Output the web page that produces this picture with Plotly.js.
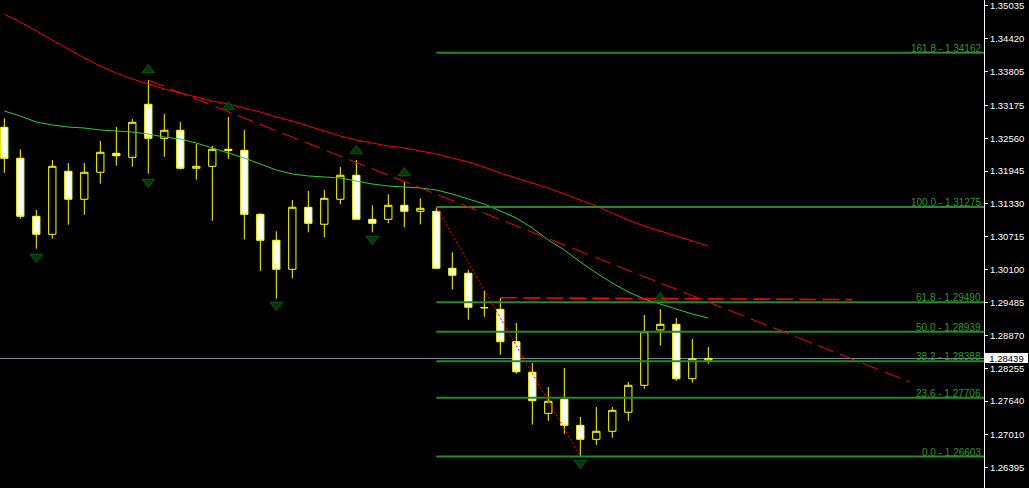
<!DOCTYPE html>
<html>
<head>
<meta charset="utf-8">
<script src="https://cdn.plot.ly/plotly-3.0.1.min.js"></script>
<style>
html,body{margin:0;padding:0;background:#000;}
#chart{width:1029px;height:488px;}
</style>
</head>
<body>
<div id="chart"></div>
<script>
// ---- data ----
const candleIdx = [0,1,2,3,4,5,6,7,8,9,10,11,12,13,14,15,16,17,18,19,20,21,22,23,24,25,26,27,28,29,30,31,32,33,34,35,36,37,38,39,40,41,42,43,44];
const openP  = [1.32765,1.32185,1.31099,1.30763,1.31942,1.31418,1.31923,1.32278,1.32203,1.33195,1.32559,1.32709,1.31998,1.32035,1.32353,1.32334,1.31137,1.30650,1.30108,1.31268,1.30950,1.31418,1.31867,1.31043,1.31043,1.31305,1.31193,1.31193,1.30126,1.30033,1.29389,1.29359,1.28753,1.28180,1.27413,1.27675,1.27188,1.26926,1.27076,1.27432,1.27937,1.28972,1.29078,1.28060,1.28405];
const highP  = [1.32933,1.32353,1.31217,1.32153,1.32097,1.32097,1.32509,1.32770,1.32920,1.33650,1.33014,1.32864,1.32452,1.32415,1.32958,1.32714,1.31156,1.30819,1.31404,1.31573,1.31592,1.32022,1.32153,1.31305,1.31511,1.31736,1.31436,1.31275,1.30426,1.30095,1.29702,1.29576,1.29103,1.28354,1.27905,1.28261,1.27344,1.27531,1.27531,1.27999,1.29252,1.29365,1.29196,1.28803,1.28654];
const lowP   = [1.31915,1.31055,1.30493,1.30680,1.30942,1.31129,1.31709,1.32046,1.32028,1.31897,1.32215,1.31979,1.31784,1.31017,1.32177,1.30665,1.30081,1.29557,1.29939,1.30800,1.30706,1.31324,1.31043,1.30800,1.30968,1.30894,1.30950,1.30110,1.29730,1.29164,1.29221,1.28510,1.28154,1.27200,1.27274,1.27031,1.26603,1.26825,1.26956,1.27274,1.27873,1.28678,1.28023,1.27986,1.28341];
const closeP = [1.32185,1.31099,1.30763,1.32035,1.31418,1.31923,1.32297,1.32233,1.32858,1.32559,1.32709,1.31998,1.32035,1.32353,1.32334,1.31137,1.30650,1.30108,1.31268,1.30968,1.31436,1.31867,1.31043,1.30968,1.31305,1.31193,1.31249,1.30126,1.29995,1.29397,1.29389,1.28753,1.28191,1.27649,1.27638,1.27188,1.26926,1.27076,1.27469,1.27937,1.28940,1.29078,1.28060,1.28435,1.28439];

const maSlow = [1.34885,1.34735,1.34567,1.34399,1.34230,1.34062,1.33912,1.33781,1.33669,1.33575,1.33482,1.33407,1.33332,1.33257,1.33201,1.33126,1.33051,1.32958,1.32883,1.32789,1.32696,1.32602,1.32527,1.32471,1.32415,1.32378,1.32321,1.32265,1.32190,1.32116,1.32022,1.31910,1.31816,1.31723,1.31629,1.31517,1.31404,1.31292,1.31161,1.31030,1.30918,1.30824,1.30731,1.30637,1.30544];
const maFast = [1.33070,1.32976,1.32864,1.32808,1.32770,1.32752,1.32714,1.32696,1.32677,1.32640,1.32583,1.32546,1.32471,1.32378,1.32284,1.32190,1.32078,1.31966,1.31891,1.31854,1.31835,1.31816,1.31760,1.31704,1.31666,1.31648,1.31629,1.31592,1.31517,1.31423,1.31330,1.31199,1.31068,1.30880,1.30656,1.30469,1.30244,1.30038,1.29851,1.29683,1.29552,1.29458,1.29365,1.29271,1.29196];

const upFractalX = [9,14,22,25,41];
const upFractalY = [1.33837,1.33145,1.32321,1.31910,1.29571];
const downFractalX = [2,9,17,23,36];
const downFractalY = [1.30338,1.31741,1.29440,1.30675,1.26483];

const fibPct  = ['0.0','23.6','38.2','50.0','61.8','100.0','161.8'];
const fibVals = [1.26603,1.27706,1.28388,1.28939,1.29490,1.31275,1.34162];
const fibStartX = 27;
const fibBaseX = [27, 36];
const fibBaseY = [1.31275, 1.26603];

const trendX = [9, 56.6];
const trendY = [1.33650, 1.28000];
const levelLineX = [31, 53];
const levelLineY = [1.29576, 1.29540];

const bidPrice = 1.28439;
const bidText = '1.28439';

const tickLabels = ['1.35035','1.34420','1.33805','1.33175','1.32560','1.31945','1.31330','1.30715','1.30100','1.29485','1.28870','1.28255','1.27640','1.27010','1.26395'];
const tickValues = tickLabels.map(Number);

// ---- figure ----
const X_MIN = -0.269, X_MAX = 61.23;
const Y_MIN = 1.26015, Y_MAX = 1.35147;
const FONT = 'Liberation Sans, Arial, sans-serif';

const traces = [];
traces.push({
  type:'candlestick', x:candleIdx, open:openP, high:highP, low:lowP, close:closeP,
  increasing:{line:{color:'#FFFF00', width:1}, fillcolor:'#000000'},
  decreasing:{line:{color:'#FFFF00', width:1}, fillcolor:'#FFFFFF'},
  whiskerwidth:0, showlegend:false, hoverinfo:'skip'
});
traces.push({type:'scatter', mode:'lines', x:candleIdx, y:maSlow, line:{color:'#FF0000', width:1}, showlegend:false, hoverinfo:'skip'});
traces.push({type:'scatter', mode:'lines', x:candleIdx, y:maFast, line:{color:'#32CD32', width:1}, showlegend:false, hoverinfo:'skip'});
fibVals.forEach(v => {
  traces.push({type:'scatter', mode:'lines', x:[fibStartX, X_MAX], y:[v, v], line:{color:'#228B22', width:2}, showlegend:false, hoverinfo:'skip'});
});
traces.push({type:'scatter', mode:'lines', x:fibBaseX, y:fibBaseY, line:{color:'#FF0000', width:1, dash:'2px,2px'}, showlegend:false, hoverinfo:'skip'});
traces.push({type:'scatter', mode:'lines', x:trendX, y:trendY, line:{color:'#FF0000', width:1, dash:'17px,7px'}, showlegend:false, hoverinfo:'skip'});
traces.push({type:'scatter', mode:'markers', x:upFractalX, y:upFractalY, marker:{symbol:'triangle-up', size:11, color:'#003A00', line:{color:'#0B5A0B', width:1}}, showlegend:false, hoverinfo:'skip'});
traces.push({type:'scatter', mode:'markers', x:downFractalX, y:downFractalY, marker:{symbol:'triangle-down', size:11, color:'#003A00', line:{color:'#0B5A0B', width:1}}, showlegend:false, hoverinfo:'skip'});
traces.push({type:'scatter', mode:'lines', x:levelLineX, y:levelLineY, line:{color:'#FF0000', width:1.6, dash:'17px,6px'}, showlegend:false, hoverinfo:'skip'});

const annotations = fibVals.map((v,i) => ({
  xref:'paper', x:1, xanchor:'right', xshift:-1,
  yref:'y', y:v, yanchor:'bottom', yshift:-3,
  text: fibPct[i] + ' - ' + v.toFixed(5),
  showarrow:false, font:{family:FONT, size:10, color:'#2A9A2A'}
}));
annotations.push({
  xref:'paper', x:1, xanchor:'left', xshift:1,
  yref:'y', y:bidPrice, yanchor:'middle',
  text: bidText, showarrow:false, bgcolor:'#FFFFFF', borderpad:0, borderwidth:0,
  width:43, height:10, align:'center',
  font:{family:FONT, size:9.5, color:'#000000'}
});

const layout = {
  width:1029, height:488,
  margin:{l:0, r:45, t:0, b:0, pad:0},
  paper_bgcolor:'#000000', plot_bgcolor:'#000000',
  showlegend:false, boxgap:0.35, dragmode:false,
  xaxis:{range:[X_MIN, X_MAX], visible:false, fixedrange:true, rangeslider:{visible:false}},
  yaxis:{range:[Y_MIN, Y_MAX], side:'right', showgrid:false, zeroline:false,
    showline:true, linecolor:'#FFFFFF', linewidth:1, mirror:false,
    ticks:'outside', ticklen:3, tickcolor:'#FFFFFF', tickwidth:1,
    tickvals:tickValues, ticktext:tickLabels,
    tickfont:{family:FONT, size:9.5, color:'#FFFFFF'}, fixedrange:true},
  shapes:[{type:'line', xref:'paper', x0:0, x1:1, yref:'y', y0:bidPrice, y1:bidPrice, line:{color:'#778899', width:1}, layer:'below'}],
  annotations:annotations
};

Plotly.newPlot('chart', traces, layout, {displayModeBar:false, staticPlot:true});
</script>
</body>
</html>
